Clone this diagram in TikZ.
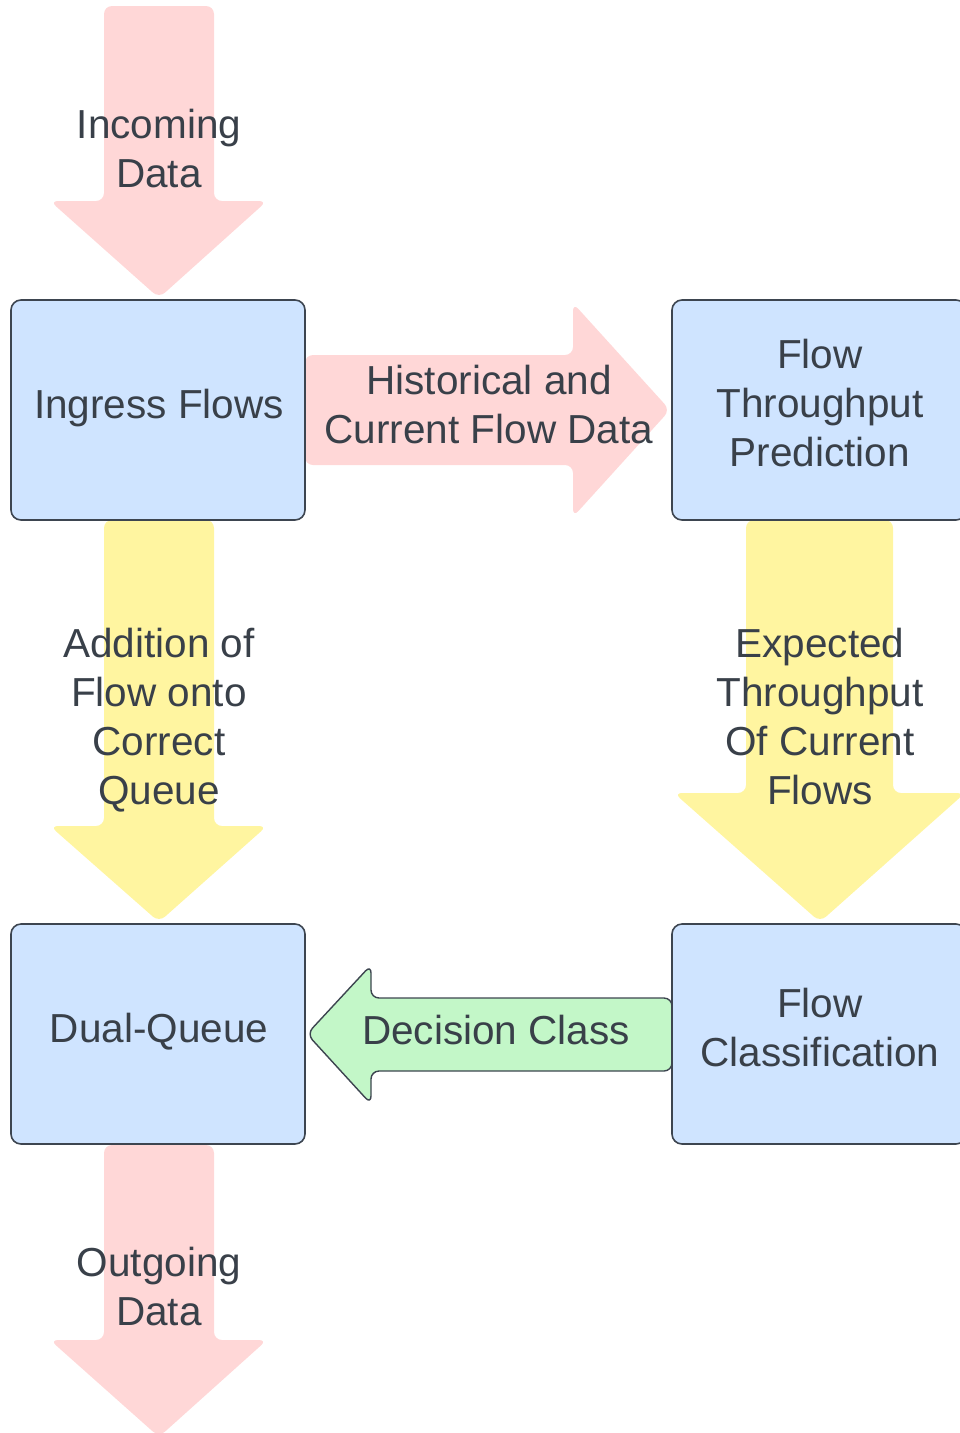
\documentclass[tikz,border=0pt]{standalone}
\usepackage{fontspec}
\setmainfont{Liberation Sans}
\definecolor{pinkfill}{HTML}{FFD7D7}
\definecolor{bluefill}{HTML}{CFE4FF}
\definecolor{yellowfill}{HTML}{FFF5A0}
\definecolor{greenfill}{HTML}{C3F7C8}
\definecolor{txt}{HTML}{394049}
\definecolor{edge}{HTML}{3D4550}
\tikzset{
  box/.style={draw=edge, line width=1.6pt, fill=bluefill, rounded corners=10pt},
  blockarrow/.style={rounded corners=8pt},
  lbl/.style={text=txt, align=center, inner sep=0pt, font=\fontsize{40.5}{49}\selectfont},
}
\begin{document}
\begin{tikzpicture}[x=1pt,y=-1pt]
\useasboundingbox (0,0) rectangle (960,1433);
\clip (0,0) rectangle (960,1433);
% block arrows
\path[blockarrow, fill=pinkfill] (104,6) -- (214,6) -- (214,201) -- (267,201) -- (159,298) -- (50,201) -- (104,201) -- cycle;
\path[blockarrow, fill=pinkfill] (305,355) -- (573,355) -- (573,303) -- (670,410) -- (573,517) -- (573,465) -- (305,465) -- cycle;
\path[blockarrow, fill=yellowfill] (104,520) -- (214,520) -- (214,826) -- (267,826) -- (159,922) -- (50,826) -- (104,826) -- cycle;
\path[blockarrow, fill=yellowfill] (746,520) -- (893,520) -- (893,793) -- (965,793) -- (820,922) -- (674,793) -- (746,793) -- cycle;
\draw[blockarrow, fill=greenfill, draw=edge, line width=1.4pt] (672,998) -- (371,998) -- (371,965) -- (307,1034) -- (371,1104) -- (371,1071) -- (672,1071) -- cycle;
\path[blockarrow, fill=pinkfill] (104,1145) -- (214,1145) -- (214,1340) -- (267,1340) -- (159,1437) -- (50,1340) -- (104,1340) -- cycle;
% boxes
\draw[box] (11,300) rectangle (305,520);
\draw[box] (672,300) rectangle (966,520);
\draw[box] (11,924) rectangle (305,1144);
\draw[box] (672,924) rectangle (966,1144);
% labels
\node[lbl] (ingress) at (159,408) {Ingress Flows};
\node[lbl] (predict) at (820,403) {Flow\\Throughput\\Prediction};
\node[lbl] (dual) at (159,1032) {Dual-Queue};
\node[lbl] (classif) at (820,1028) {Flow\\Classification};
\node[lbl] (incoming) at (159,149) {Incoming\\Data};
\node[lbl] (hist) at (489,405) {Historical and\\Current Flow Data};
\node[lbl] (addition) at (159,720) {Addition of\\Flow onto\\Correct\\Queue};
\node[lbl] (expected) at (820,717) {Expected\\Throughput\\Of Current\\Flows};
\node[lbl] (decision) at (496,1030) {Decision Class};
\node[lbl] (outgoing) at (159,1287) {Outgoing\\Data};
\end{tikzpicture}
\end{document}
